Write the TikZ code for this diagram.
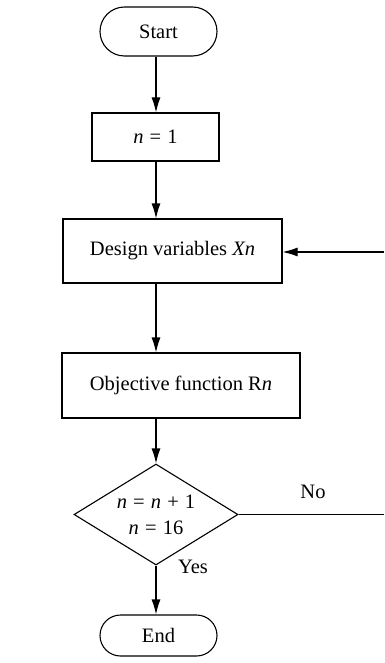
\documentclass[tikz,border=0pt]{standalone}
\usepackage{fontspec}
\setmainfont{Liberation Serif}
\usetikzlibrary{shapes.misc,shapes.geometric,arrows.meta}
\newcommand{\eqsp}{\hspace{0.3em}}
\begin{document}
\begin{tikzpicture}[x=1pt,y=-1pt,
  font=\fontsize{20.5}{25}\selectfont,
  every node/.style={line width=1.1pt,inner sep=0pt},
  terminal/.style={draw,rounded rectangle,minimum width=117pt},
  procbox/.style={draw,rectangle},
  decision/.style={draw,diamond,minimum width=164pt,minimum height=101pt},
  lbl/.style={draw=none,align=center},
  arr/.style={line width=1.1pt,-{Latex[length=15pt,width=9pt]}},
  ln/.style={line width=1.1pt}]
\useasboundingbox (0,0) rectangle (384,663);
\coordinate (c) at (156,0);
\node[terminal,minimum height=49pt] (start) at (158.5,31.5) {Start};
\node[procbox,minimum width=127pt,minimum height=48pt] (n1) at (155.5,137) {\textit{n}\eqsp=\eqsp1};
\node[procbox,minimum width=219pt,minimum height=64pt] (dv) at (172.5,251) {Design variables \textit{Xn}};
\node[procbox,minimum width=238pt,minimum height=65pt] (of) at (181,385.5) {Objective function R\textit{n}};
\node[decision] (dec) at (156,514.5) {};
\node[lbl] (dectext) at (dec.center) {\textit{n}\eqsp=\eqsp\textit{n}\eqsp+\eqsp1\\[1pt]\textit{n}\eqsp=\eqsp16};
\node[terminal,minimum height=41pt] (end) at (158.5,635.5) {End};
\node[lbl] (no) at (313,492) {No};
\node[lbl] (yes) at (193,567) {Yes};
\coordinate (r1) at (384,252);
\coordinate (r2) at (384,514.5);
\draw[arr] (start.south -| c) -- (n1.north -| c);
\draw[arr] (n1.south -| c) -- (dv.north -| c);
\draw[arr] (dv.south -| c) -- (of.north -| c);
\draw[arr] (of.south -| c) -- (dec.north);
\draw[arr] (dec.south) -- (end.north -| c);
\draw[arr] (r1) -- (r1 -| dv.east);
\draw[ln] (dec.east) -- (r2);
\end{tikzpicture}
\end{document}
